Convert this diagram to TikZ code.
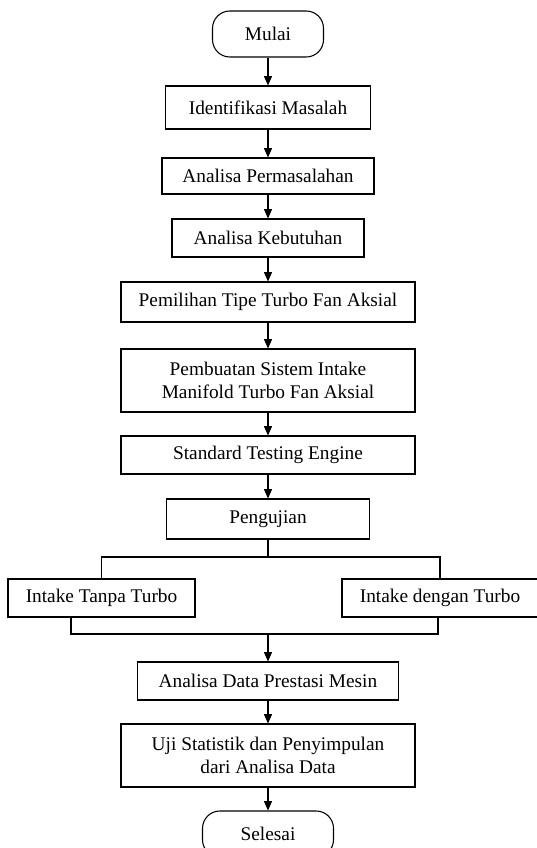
\documentclass[tikz,border=0pt]{standalone}
\usepackage{fontspec}
\setmainfont{Liberation Serif}
\usetikzlibrary{arrows.meta}

\begin{document}
\begin{tikzpicture}[x=0.75pt,y=-0.75pt,line width=0.8pt]
\useasboundingbox (0,0) rectangle (536,848);

\tikzstyle{every node} = [font=\fontsize{14.5}{17.5}\selectfont, align=center, inner sep=0pt]
\tikzstyle{proses} = [draw, rectangle, minimum height=28.5pt]
\tikzstyle{terminal} = [draw, rectangle, rounded corners=13pt, minimum height=34.5pt]
\tikzstyle{panah} = [-{Triangle[length=7pt,width=6pt]}]

% Alur utama
\node[terminal, minimum width=83.25pt] (mulai) at (268, 34) {Mulai};
\node[proses, minimum width=153.75pt, minimum height=32.25pt] (ident) at (268, 107.5) {Identifikasi Masalah};
\node[proses, minimum width=159pt, minimum height=27pt] (perm) at (268, 176) {Analisa Permasalahan};
\node[proses, minimum width=144pt] (butuh) at (268, 238) {Analisa Kebutuhan};
\node[proses, minimum width=220.5pt, minimum height=30pt] (tipe) at (268, 302) {Pemilihan Tipe Turbo Fan Aksial};
\node[proses, minimum width=220.5pt, minimum height=47.25pt] (buat) at (268, 380.5) {Pembuatan Sistem Intake\\Manifold Turbo Fan Aksial};
\node[proses, minimum width=220.5pt] (std) at (268, 455) {Standard Testing Engine};
\node[proses, minimum width=152.25pt, minimum height=30pt] (uji) at (268, 519) {Pengujian};

% Cabang pengujian
\node[proses, minimum width=140.25pt] (tanpa) at (101.5, 598) {Intake Tanpa Turbo};
\node[proses, minimum width=147pt] (dengan) at (440, 598) {Intake dengan Turbo};

% Analisa akhir
\node[proses, minimum width=195.75pt] (data) at (268, 681) {Analisa Data Prestasi Mesin};
\node[proses, minimum width=220.5pt, minimum height=47.25pt] (stat) at (268, 755.5) {Uji Statistik dan Penyimpulan\\dari Analisa Data};
\node[terminal, minimum width=98.25pt] (selesai) at (268, 834) {Selesai};

\foreach \from/\to in {mulai/ident, ident/perm, perm/butuh, butuh/tipe, tipe/buat, buat/std, std/uji, data/stat, stat/selesai}
\draw[panah] (\from) -- (\to);

% Percabangan
\coordinate (pisah) at (268, 557);
\draw (uji) -- (pisah);
\draw (tanpa.north) |- (pisah) -| (dengan.north);

% Penggabungan
\coordinate (gabungkiri) at (71, 634);
\coordinate (gabungkanan) at (438, 634);
\coordinate (gabung) at (268, 634);
\draw (gabungkiri |- tanpa.south) -- (gabungkiri) -- (gabungkanan) -- (gabungkanan |- dengan.south);
\draw[panah] (gabung) -- (data);

\end{tikzpicture}
\end{document}
